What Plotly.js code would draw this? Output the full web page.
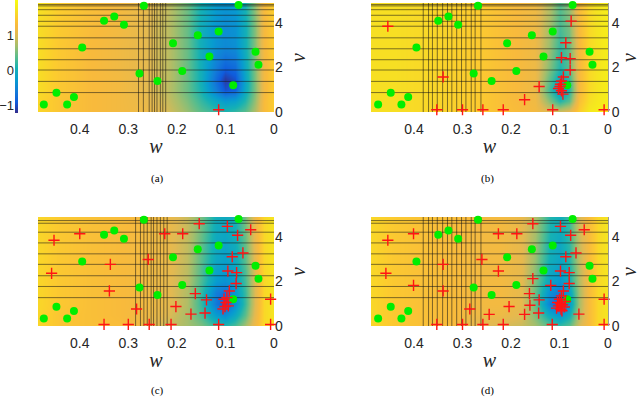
<!DOCTYPE html>
<html>
<head>
<meta charset="utf-8">
<script src="https://cdn.plot.ly/plotly-3.0.1.min.js"></script>
<style>
  html, body { margin: 0; padding: 0; background: #fff; }
  #chart { width: 640px; height: 398px; }
</style>
</head>
<body>
<div id="chart"></div>
<script>
// grid of the background surface (w descending, v ascending)
const wGrid = [0.49, 0.44, 0.38, 0.32, 0.27, 0.22, 0.18, 0.15, 0.12, 0.10, 0.08, 0.06, 0.04, 0.02, 0.0];
const vGrid = [0, 0.5, 1.0, 1.5, 2.0, 3.0, 4.0, 5.0];

// surface values, one row per v
const zA = [
  [1.62, 1.42, 1.30, 1.23, 1.17, 0.98, 0.66, 0.40, 0.24, 0.14, 0.24, 0.40, 0.78, 1.30, 1.52],
  [1.62, 1.42, 1.30, 1.23, 1.14, 0.91, 0.56, 0.24, -0.08, -0.24, -0.18, 0.14, 0.66, 1.30, 1.52],
  [1.68, 1.46, 1.30, 1.23, 1.10, 0.85, 0.46, 0.08, -0.56, -0.94, -0.82, -0.08, 0.56, 1.23, 1.52],
  [1.68, 1.46, 1.30, 1.23, 1.10, 0.85, 0.46, 0.02, -0.72, -1.10, -0.94, -0.14, 0.56, 1.23, 1.52],
  [1.68, 1.46, 1.30, 1.20, 1.10, 0.85, 0.46, 0.02, -0.56, -0.82, -0.72, -0.08, 0.56, 1.23, 1.52],
  [1.68, 1.46, 1.30, 1.20, 1.10, 0.85, 0.46, 0.02, -0.34, -0.43, -0.37, 0.02, 0.59, 1.26, 1.52],
  [1.68, 1.49, 1.33, 1.23, 1.10, 0.85, 0.46, 0.02, -0.30, -0.40, -0.34, 0.02, 0.59, 1.26, 1.52],
  [1.74, 1.52, 1.36, 1.26, 1.14, 0.88, 0.50, 0.08, -0.24, -0.30, -0.24, 0.08, 0.66, 1.30, 1.55]
];
const zB = [
  [1.68, 1.68, 1.62, 1.55, 1.49, 1.36, 1.30, 1.23, 1.04, 0.98, 1.10, 1.52, 1.78, 1.84, 1.84],
  [1.68, 1.68, 1.62, 1.55, 1.49, 1.36, 1.26, 1.20, 0.56, 0.14, 0.40, 1.36, 1.68, 1.78, 1.84],
  [1.68, 1.68, 1.62, 1.55, 1.49, 1.36, 1.26, 1.17, 0.24, -0.30, 0.14, 1.26, 1.62, 1.74, 1.84],
  [1.68, 1.68, 1.62, 1.55, 1.49, 1.36, 1.26, 1.17, 0.40, -0.08, 0.24, 1.26, 1.62, 1.74, 1.84],
  [1.68, 1.68, 1.62, 1.55, 1.49, 1.36, 1.26, 1.17, 0.56, 0.14, 0.40, 1.26, 1.62, 1.74, 1.84],
  [1.68, 1.68, 1.62, 1.55, 1.49, 1.36, 1.26, 1.17, 0.66, 0.24, 0.46, 1.26, 1.62, 1.74, 1.84],
  [1.68, 1.68, 1.62, 1.55, 1.49, 1.36, 1.26, 1.17, 0.72, 0.34, 0.56, 1.30, 1.62, 1.74, 1.84],
  [1.68, 1.68, 1.62, 1.55, 1.49, 1.36, 1.26, 1.20, 0.78, 0.40, 0.66, 1.30, 1.62, 1.74, 1.84]
];
const zC = [
  [1.62, 1.42, 1.36, 1.33, 1.17, 0.91, 0.72, 0.56, 0.24, 0.14, 0.34, 0.72, 1.20, 1.62, 1.74],
  [1.62, 1.42, 1.36, 1.30, 1.20, 1.04, 0.72, 0.34, -0.24, -0.40, -0.08, 0.40, 1.10, 1.62, 1.74],
  [1.62, 1.46, 1.36, 1.30, 1.23, 1.10, 0.78, 0.24, -0.62, -0.88, -0.40, 0.24, 1.04, 1.62, 1.74],
  [1.62, 1.46, 1.36, 1.30, 1.23, 1.10, 0.78, 0.24, -0.56, -0.72, -0.30, 0.24, 1.04, 1.62, 1.74],
  [1.62, 1.46, 1.36, 1.30, 1.23, 1.10, 0.82, 0.34, -0.24, -0.34, -0.18, 0.30, 1.04, 1.62, 1.74],
  [1.62, 1.46, 1.36, 1.30, 1.23, 1.14, 0.85, 0.40, -0.08, -0.18, -0.05, 0.40, 1.10, 1.62, 1.74],
  [1.62, 1.46, 1.36, 1.30, 1.23, 1.14, 0.88, 0.46, -0.05, -0.11, 0.02, 0.46, 1.14, 1.62, 1.74],
  [1.62, 1.49, 1.39, 1.33, 1.26, 1.17, 0.91, 0.53, 0.02, -0.05, 0.08, 0.53, 1.17, 1.62, 1.74]
];
const zD = [
  [1.62, 1.46, 1.36, 1.30, 1.04, 0.98, 0.91, 0.72, 0.40, 0.24, 0.40, 0.98, 1.30, 1.62, 1.74],
  [1.62, 1.46, 1.36, 1.30, 1.17, 1.17, 1.04, 0.56, -0.08, -0.30, 0.02, 0.78, 1.30, 1.62, 1.74],
  [1.62, 1.46, 1.36, 1.30, 1.23, 1.23, 1.10, 0.46, -0.56, -0.88, -0.30, 0.72, 1.30, 1.62, 1.74],
  [1.62, 1.46, 1.36, 1.30, 1.23, 1.23, 1.10, 0.46, -0.40, -0.62, -0.18, 0.72, 1.30, 1.62, 1.74],
  [1.62, 1.46, 1.36, 1.30, 1.23, 1.23, 1.10, 0.56, -0.14, -0.30, 0.02, 0.78, 1.30, 1.62, 1.74],
  [1.62, 1.46, 1.36, 1.30, 1.23, 1.23, 1.10, 0.66, 0.02, -0.11, 0.14, 0.85, 1.30, 1.62, 1.74],
  [1.62, 1.46, 1.36, 1.30, 1.23, 1.23, 1.10, 0.72, 0.08, -0.05, 0.21, 0.91, 1.30, 1.62, 1.74],
  [1.62, 1.49, 1.39, 1.33, 1.26, 1.26, 1.14, 0.78, 0.14, 0.02, 0.27, 0.98, 1.33, 1.62, 1.74]
];
const zLimits = [-1.2, 1.99];

// partition lines
const hLinesTop = [0.87, 1.37, 1.88, 2.34, 2.83, 3.32, 3.84, 4.06, 4.33, 4.58, 4.75, 4.81];
const hLinesBottom = [1.27, 1.77, 2.25, 2.76, 3.23, 3.72, 4.20, 4.60, 4.72];
const vLinesA = [0.279, 0.269, 0.257, 0.251, 0.246, 0.241, 0.234, 0.229, 0.223];
const vLinesB = [0.381, 0.370, 0.362, 0.352, 0.341, 0.331, 0.322, 0.312, 0.302, 0.293, 0.282, 0.274, 0.262];
const vLinesC = [0.285, 0.275, 0.268, 0.261, 0.253, 0.248, 0.241, 0.234, 0.227, 0.220];
const vLinesD = vLinesB;

// green points (same in every panel)
const greenW = [0.268, 0.073, 0.350, 0.329, 0.309, 0.114, 0.157, 0.208, 0.395, 0.038, 0.133, 0.032, 0.189, 0.277, 0.240, 0.084, 0.448, 0.412, 0.474, 0.426];
const greenV = [4.76, 4.79, 4.09, 4.28, 3.91, 3.60, 3.44, 3.08, 2.89, 2.70, 2.49, 2.12, 1.84, 1.72, 1.39, 1.20, 0.86, 0.67, 0.34, 0.34];

// red samples per panel
const redAW = [0.114];
const redAV = [0.10];
const redBW = [0.454, 0.076, 0.087, 0.096, 0.078, 0.078, 0.340, 0.092, 0.096, 0.098, 0.099, 0.102, 0.096, 0.093, 0.142, 0.172, 0.353, 0.300, 0.258, 0.216, 0.114, 0.008];
const redBV = [3.84, 4.07, 3.10, 2.43, 2.39, 1.88, 1.57, 1.57, 1.39, 1.24, 1.14, 1.05, 0.95, 0.80, 1.14, 0.55, 0.1, 0.1, 0.1, 0.1, 0.1, 0.1];
const redCW = [0.453, 0.400, 0.458, 0.337, 0.339, 0.283, 0.259, 0.225, 0.188, 0.154, 0.096, 0.075, 0.048, 0.064, 0.086, 0.095, 0.077, 0.078, 0.162, 0.139, 0.202, 0.171, 0.142, 0.007, 0.092, 0.097, 0.099, 0.101, 0.105, 0.094, 0.103, 0.350, 0.300, 0.257, 0.212, 0.114, 0.007];
const redCV = [3.84, 4.13, 2.36, 2.76, 1.57, 0.76, 2.98, 4.13, 4.13, 4.58, 4.46, 4.06, 4.31, 3.27, 3.10, 2.46, 2.39, 1.90, 1.45, 1.17, 0.87, 0.53, 0.58, 1.20, 1.57, 1.27, 1.05, 0.87, 0.76, 0.90, 1.20, 0.07, 0.07, 0.07, 0.07, 0.07, 0.07];
const redDW = [0.454, 0.401, 0.458, 0.401, 0.340, 0.340, 0.285, 0.260, 0.226, 0.188, 0.155, 0.098, 0.077, 0.049, 0.066, 0.087, 0.098, 0.080, 0.080, 0.226, 0.155, 0.118, 0.162, 0.142, 0.161, 0.204, 0.245, 0.172, 0.143, 0.060, 0.008, 0.092, 0.096, 0.100, 0.104, 0.098, 0.094, 0.102, 0.090, 0.106, 0.097, 0.088, 0.095, 0.353, 0.300, 0.258, 0.216, 0.115, 0.008];
const redDV = [3.84, 4.13, 2.36, 1.82, 2.76, 1.57, 0.76, 2.98, 4.13, 4.13, 4.58, 4.46, 4.06, 4.31, 3.27, 3.10, 2.46, 2.39, 1.90, 2.46, 2.12, 1.82, 1.45, 1.17, 0.93, 0.87, 0.52, 0.52, 0.58, 0.53, 1.20, 1.57, 1.35, 1.20, 1.05, 1.00, 0.95, 0.90, 0.85, 0.80, 0.75, 1.10, 0.68, 0.07, 0.07, 0.07, 0.07, 0.07, 0.07];

const wTicks = [0.4, 0.3, 0.2, 0.1, 0];
const wTickText = ['0.4', '0.3', '0.2', '0.1', '0'];
const vTicks = [0, 2, 4];
const cbTicks = [-1, 0, 1];
const captions = ['(a)', '(b)', '(c)', '(d)'];

// parula-like colour map
const parula = [
  [0.0, 'rgb(53,42,135)'], [0.1, 'rgb(15,92,221)'], [0.2, 'rgb(18,125,216)'],
  [0.3, 'rgb(7,156,207)'], [0.4, 'rgb(21,177,180)'], [0.5, 'rgb(89,189,140)'],
  [0.6, 'rgb(165,190,107)'], [0.7, 'rgb(225,185,82)'], [0.78, 'rgb(248,186,60)'],
  [0.85, 'rgb(252,204,46)'], [0.92, 'rgb(245,229,32)'], [1.0, 'rgb(249,251,14)']
];

const wRangeL = [0.486, 0];
const wRangeR = [0.4887, 0];
const vRange = [0, 4.88];

const panels = [
  { z: zA, h: hLinesTop, v: vLinesA, rw: redAW, rv: redAV, xa: 'x', ya: 'y', wr: wRangeL },
  { z: zB, h: hLinesTop, v: vLinesB, rw: redBW, rv: redBV, xa: 'x2', ya: 'y2', wr: wRangeR },
  { z: zC, h: hLinesBottom, v: vLinesC, rw: redCW, rv: redCV, xa: 'x3', ya: 'y3', wr: wRangeL },
  { z: zD, h: hLinesBottom, v: vLinesD, rw: redDW, rv: redDV, xa: 'x4', ya: 'y4', wr: wRangeR }
];

const data = [];
panels.forEach(p => {
  data.push({
    type: 'heatmap', x: wGrid, y: vGrid, z: p.z, zsmooth: 'best',
    colorscale: parula, zmin: zLimits[0], zmax: zLimits[1], showscale: false,
    xaxis: p.xa, yaxis: p.ya, hoverinfo: 'skip'
  });
  const lx = [], ly = [];
  p.h.forEach(v => { lx.push(p.wr[0], p.wr[1], null); ly.push(v, v, null); });
  p.v.forEach(w => { lx.push(w, w, null); ly.push(vRange[0], vRange[1], null); });
  data.push({
    type: 'scatter', mode: 'lines', x: lx, y: ly, xaxis: p.xa, yaxis: p.ya,
    line: { color: 'rgba(20,20,20,0.55)', width: 1 }, hoverinfo: 'skip'
  });
  data.push({
    type: 'scatter', mode: 'markers', x: greenW, y: greenV, xaxis: p.xa, yaxis: p.ya,
    marker: { color: 'rgb(0,238,0)', size: 8 }, cliponaxis: false
  });
  data.push({
    type: 'scatter', mode: 'markers', x: p.rw, y: p.rv, xaxis: p.xa, yaxis: p.ya,
    marker: { symbol: 'cross-thin', size: 8, line: { color: 'rgb(255,20,20)', width: 1.4 } },
    cliponaxis: false
  });
});

// colour bar of panel (a), drawn as its own small heatmap
data.push({
  type: 'heatmap', x: [0, 1], y: zLimits, z: [[zLimits[0], zLimits[0]], [zLimits[1], zLimits[1]]],
  zsmooth: 'best', colorscale: parula, zmin: zLimits[0], zmax: zLimits[1],
  showscale: false, xaxis: 'x5', yaxis: 'y5', hoverinfo: 'skip'
});

const tickFont = { family: 'Liberation Sans, Arial, sans-serif', size: 14, color: '#262626' };
const titleFont = { family: 'Liberation Serif, serif', size: 20, color: '#262626' };

function xAxis(domain, range, anchor) {
  return {
    domain, range, anchor, tickvals: wTicks, ticktext: wTickText,
    ticks: 'outside', ticklen: 4, tickcolor: 'rgba(0,0,0,0)',
    showgrid: false, zeroline: false, showline: false, tickfont: tickFont,
    title: { text: '<i>w</i>', font: titleFont, standoff: 3 }
  };
}
function yAxis(domain, anchor, line) {
  return {
    domain, range: vRange, anchor, side: 'right', tickvals: vTicks,
    ticks: '', showgrid: false, zeroline: false,
    showline: line, linecolor: '#9a9a9a', linewidth: 1, tickfont: tickFont,
    title: { text: '<i>v</i>', font: titleFont, standoff: 8 }
  };
}

const rowTop = [1 - 112 / 398, 1 - 3 / 398];
const rowBottom = [1 - 326 / 398, 1 - 217 / 398];
const colLeft = [38 / 640, 274 / 640];
const colRight = [371 / 640, 608 / 640];

const layout = {
  width: 640, height: 398,
  margin: { l: 0, r: 0, t: 0, b: 0 },
  paper_bgcolor: '#fff', plot_bgcolor: '#fff',
  showlegend: false,
  xaxis: xAxis(colLeft, wRangeL, 'y'),
  yaxis: yAxis(rowTop, 'x', false),
  xaxis2: xAxis(colRight, wRangeR, 'y2'),
  yaxis2: yAxis(rowTop, 'x2', true),
  xaxis3: xAxis(colLeft, wRangeL, 'y3'),
  yaxis3: yAxis(rowBottom, 'x3', false),
  xaxis4: xAxis(colRight, wRangeR, 'y4'),
  yaxis4: yAxis(rowBottom, 'x4', true),
  xaxis5: { domain: [15 / 640, 18 / 640], range: [0, 1], anchor: 'y5', visible: false },
  yaxis5: {
    domain: [1 - 113 / 398, 1], range: zLimits, anchor: 'x5', side: 'left',
    tickvals: cbTicks, ticks: '', showgrid: false, zeroline: false, showline: false,
    tickfont: { family: 'Liberation Sans, Arial, sans-serif', size: 13, color: '#262626' }
  },
  annotations: captions.map((c, i) => ({
    text: c, xref: 'paper', yref: 'paper',
    x: (i % 2 === 0 ? 157 : 487) / 640,
    y: 1 - (i < 2 ? 178 : 390) / 398,
    showarrow: false, xanchor: 'center', yanchor: 'middle',
    font: { family: 'Liberation Serif, serif', size: 11, color: '#000' }
  }))
};

Plotly.newPlot('chart', data, layout, { staticPlot: true, displayModeBar: false });
</script>
</body>
</html>
